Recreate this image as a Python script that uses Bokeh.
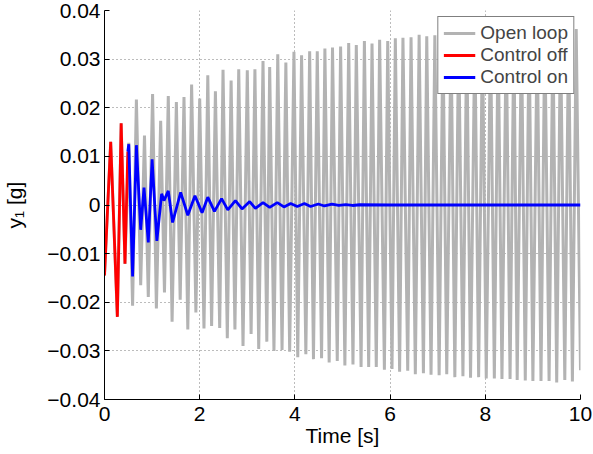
from bokeh.plotting import figure
from bokeh.models import Range1d, FixedTicker, CustomJSTickFormatter
from bokeh.embed import file_html
from bokeh.resources import INLINE

# ---- data (extrema of each trace) ----
open_t = [0.00, 0.13, 0.27, 0.35, 0.43, 0.51, 0.59, 0.67, 0.76, 0.84, 0.92, 1.01, 1.09, 1.18, 1.26,
          1.34, 1.42, 1.51, 1.59, 1.67, 1.75, 1.83, 1.92, 2.00, 2.09, 2.17, 2.25, 2.33, 2.42, 2.49,
          2.58, 2.66, 2.74, 2.82, 2.91, 3.00, 3.08, 3.16, 3.24, 3.33, 3.41, 3.47, 3.56, 3.64, 3.73,
          3.81, 3.89, 3.98, 4.06, 4.14, 4.23, 4.31, 4.39, 4.47, 4.56, 4.63, 4.72, 4.79, 4.89, 4.96,
          5.05, 5.13, 5.22, 5.29, 5.39, 5.46, 5.55, 5.62, 5.71, 5.78, 5.88, 5.95, 6.04, 6.11, 6.20,
          6.27, 6.37, 6.44, 6.53, 6.61, 6.70, 6.77, 6.86, 6.94, 7.03, 7.11, 7.19, 7.28, 7.36, 7.44,
          7.53, 7.61, 7.69, 7.78, 7.86, 7.94, 8.02, 8.11, 8.19, 8.27, 8.35, 8.44, 8.52, 8.60, 8.67,
          8.76, 8.84, 8.92, 9.00, 9.09, 9.17, 9.25, 9.34, 9.42, 9.50, 9.58, 9.67, 9.75, 9.83, 9.91,
          10.0]
open_y = [-0.0145, 0.0130, -0.0230, 0.0168, -0.0121, 0.0128, -0.0207, 0.0217, -0.0165, 0.0143,
          -0.0189, 0.0228, -0.0213, 0.0173, -0.0180, 0.0224, -0.0240, 0.0212, -0.0195, 0.0222,
          -0.0256, 0.0248, -0.0221, 0.0219, -0.0254, 0.0267, -0.0249, 0.0234, -0.0253, 0.0278,
          -0.0274, 0.0256, -0.0256, 0.0279, -0.0290, 0.0277, -0.0265, 0.0279, -0.0296, 0.0296,
          -0.0281, 0.0284, -0.0300, 0.0310, -0.0298, 0.0293, -0.0302, 0.0315, -0.0313, 0.0308,
          -0.0307, 0.0316, -0.0317, 0.0316, -0.0315, 0.0322, -0.0324, 0.0324, -0.0321, 0.0326,
          -0.0330, 0.0333, -0.0328, 0.0329, -0.0333, 0.0337, -0.0333, 0.0332, -0.0333, 0.0340,
          -0.0339, 0.0337, -0.0337, 0.0343, -0.0343, 0.0344, -0.0341, 0.0345, -0.0348, 0.0350,
          -0.0346, 0.0347, -0.0349, 0.0349, -0.0350, 0.0351, -0.0348, 0.0352, -0.0354, 0.0351,
          -0.0352, 0.0353, -0.0355, 0.0354, -0.0354, 0.0353, -0.0357, 0.0355, -0.0357, 0.0356,
          -0.0358, 0.0355, -0.0358, 0.0357, -0.0360, 0.0356, -0.0361, 0.0358, -0.0362, 0.0357,
          -0.0362, 0.0359, -0.0362, 0.0358, -0.0365, 0.0360, -0.0360, 0.0361, -0.0363, 0.0362,
          -0.0340]

off_t = [0.00, 0.13, 0.27, 0.35, 0.43, 0.49]
off_y = [-0.0145, 0.0130, -0.0230, 0.0168, -0.0121, 0.0110]

on_t = [0.49, 0.51, 0.59, 0.67, 0.76, 0.83, 0.92, 1.00, 1.10, 1.20, 1.25, 1.34, 1.43, 1.60, 1.75,
        1.90, 2.05, 2.17, 2.31, 2.46, 2.59, 2.75, 2.89, 3.05, 3.17, 3.33, 3.47, 3.63, 3.77, 3.91,
        4.05, 4.20, 4.33, 4.49, 4.62, 4.78, 4.92, 5.07, 5.21, 5.36, 6.00, 10.0]
on_y = [0.0110, 0.0125, -0.0147, 0.0123, -0.0051, 0.0036, -0.0077, 0.0094, -0.0074, 0.0023,
        0.0009, 0.0029, -0.0036, 0.0026, -0.0021, 0.0019, -0.0016, 0.0016, -0.0013, 0.0013,
        -0.0010, 0.0009, -0.0008, 0.0007, -0.0007, 0.0005, -0.0005, 0.0005, -0.0004, 0.0003,
        -0.0003, 0.0003, -0.0003, 0.0002, -0.0002, 0.0002, -0.0001, 0.0001, -0.0001, 0.00005,
        0.0, 0.0]

x_ticks = [0, 2, 4, 6, 8, 10]
y_ticks = [-0.04, -0.03, -0.02, -0.01, 0.0, 0.01, 0.02, 0.03, 0.04]

FONT = "Liberation Sans"

p = figure(width=593, height=454, output_backend="svg", toolbar_location=None,
           x_range=Range1d(0, 10), y_range=Range1d(-0.04, 0.04),
           min_border_left=104, min_border_right=13, min_border_top=10, min_border_bottom=55)
p.outline_line_color = None
p.background_fill_color = "white"

p.line(open_t, open_y, color="#b3b3b3", line_width=3, legend_label="Open loop")
p.line(off_t, off_y, color="#ff0000", line_width=2.8, legend_label="Control off")
p.line(on_t, on_y, color="#0000ff", line_width=2.8, legend_label="Control on")

p.xaxis.ticker = FixedTicker(ticks=x_ticks)
p.yaxis.ticker = FixedTicker(ticks=y_ticks)
p.yaxis.formatter = CustomJSTickFormatter(code="""
    if (Math.abs(tick) < 1e-9) { return "0"; }
    var s = Math.abs(tick).toFixed(2);
    return (tick < 0 ? "\u2212" : "") + s;
""")

for ax in (p.xaxis[0], p.yaxis[0]):
    ax.axis_line_color = "black"
    ax.axis_line_width = 1
    ax.major_tick_in = 5
    ax.major_tick_out = 0
    ax.major_tick_line_color = "black"
    ax.minor_tick_line_color = None
    ax.major_label_text_font = FONT
    ax.major_label_text_font_size = "21px"
    ax.major_label_text_color = "black"
    ax.axis_label_text_font = FONT
    ax.axis_label_text_font_size = "21px"
    ax.axis_label_text_font_style = "normal"
    ax.axis_label_text_color = "black"

p.xaxis.axis_label = "Time [s]"
p.yaxis.axis_label = "y\u2081 [g]"
p.xaxis.major_label_standoff = 7
p.xaxis.axis_label_standoff = 0
p.yaxis.major_label_standoff = 4
p.yaxis.axis_label_standoff = 18

for g in (p.xgrid[0], p.ygrid[0]):
    g.grid_line_color = "#404040"
    g.grid_line_alpha = 0.7
    g.grid_line_dash = "1 3"
    g.grid_line_width = 1

lg = p.legend[0]
lg.location = "top_right"
lg.margin = 6
lg.padding = 5
lg.spacing = 0
lg.border_line_color = "black"
lg.border_line_width = 1
lg.background_fill_color = "white"
lg.background_fill_alpha = 1
lg.label_text_font = FONT
lg.label_text_font_size = "19px"
lg.label_height = 20
lg.glyph_height = 20
lg.glyph_width = 32
lg.label_standoff = 5

open("out.html", "w").write(file_html(p, INLINE))
